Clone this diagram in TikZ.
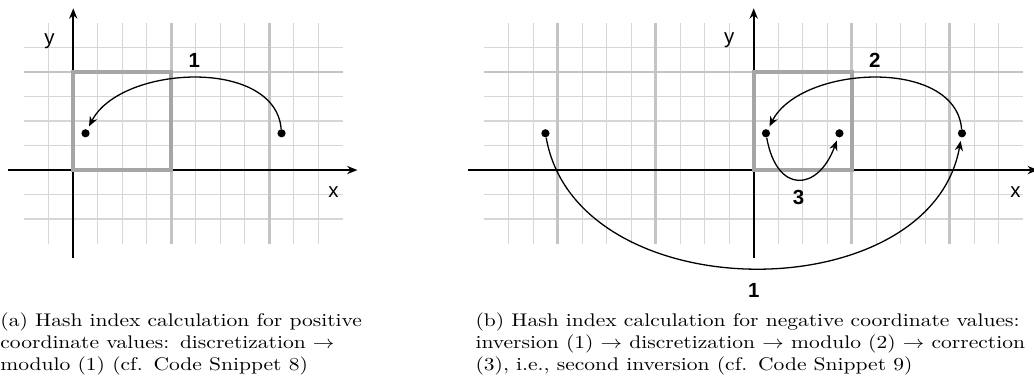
\documentclass[tikz,border=0pt]{standalone}
\usepackage{fontspec}
\newfontfamily\helv{Liberation Sans}
\usetikzlibrary{arrows.meta}

\definecolor{gridgray}{HTML}{D6D6D6}
\definecolor{gridbold}{HTML}{C4C4C4}
\definecolor{squaregray}{HTML}{A6A6A6}

\tikzset{
  thingrid/.style={draw=gridgray, line width=0.6pt},
  thickgrid/.style={draw=gridbold, line width=1.2pt},
  axis/.style={line width=0.8pt, -{Stealth[length=4.8pt,width=3.8pt]}},
  square/.style={draw=squaregray, line width=2pt},
  dot/.style={circle, fill, inner sep=0pt, minimum size=3.8pt},
  hop/.style={line width=0.6pt, -{Stealth[length=4.6pt,width=3.8pt]}, shorten >=1.5pt},
  steplabel/.style={font=\helv\bfseries\fontsize{9.5}{11}\selectfont},
  axislabel/.style={font=\helv\fontsize{9.5}{11}\selectfont},
  caption/.style={inner sep=0pt, anchor=north west, yscale=0.85, transform shape,
    font=\fontsize{10}{12}\selectfont}
}

\begin{document}
\begin{tikzpicture}[x=0.4cm,y=0.4cm]
  \useasboundingbox (-2.99,-8.78) rectangle (39.21,6.94);

  % (a) positive coordinates
  \foreach \i in {-1,...,10} \draw[thingrid] (\i,-3) -- (\i,6);
  \foreach \j in {-2,...,5} \draw[thingrid] (-2,\j) -- (11,\j);
  \foreach \i in {4,8} \draw[thickgrid] (\i,-3) -- (\i,6);
  \draw[thickgrid] (-2,4) -- (11,4);
  \coordinate (ax0) at (-2.65,0);
  \coordinate (ax1) at (11.6,0);
  \coordinate (ay0) at (0,-3.6);
  \coordinate (ay1) at (0,6.6);
  \draw[axis] (ax0) -- (ax1);
  \draw[axis] (ay0) -- (ay1);
  \draw[square] (0,0) rectangle (4,4);
  \node[axislabel] (ax) at (10.62,-0.9) {x};
  \node[axislabel] (ay) at (-0.97,5.25) {y};
  \node[dot] (ap) at (8.5,1.5) {};
  \node[dot] (aq) at (0.5,1.5) {};
  \draw[hop] (ap) to[out=95,in=63,looseness=0.95] node[steplabel, above=1.5pt] (a1) {1} (aq);

  % (b) negative coordinates
  \begin{scope}[shift={(27.77,0)}]
    \foreach \i in {-10,...,10} \draw[thingrid] (\i,-3) -- (\i,6);
    \foreach \j in {-2,...,5} \draw[thingrid] (-11,\j) -- (11,\j);
    \foreach \i in {-8,-4,4,8} \draw[thickgrid] (\i,-3) -- (\i,6);
    \draw[thickgrid] (-11,4) -- (11,4);
    \coordinate (bx0) at (-11.65,0);
    \coordinate (bx1) at (11.6,0);
    \coordinate (by0) at (0,-3.6);
    \coordinate (by1) at (0,6.6);
    \draw[axis] (bx0) -- (bx1);
    \draw[axis] (by0) -- (by1);
    \draw[square] (0,0) rectangle (4,4);
    \node[axislabel] (bx) at (10.68,-0.9) {x};
    \node[axislabel] (by) at (-1.0,5.3) {y};
    \node[dot] (bp1) at (-8.5,1.5) {};
    \node[dot] (bp2) at (0.5,1.5) {};
    \node[dot] (bp3) at (3.5,1.5) {};
    \node[dot] (bp4) at (8.5,1.5) {};
    \draw[hop] (bp1) to[out=-80,in=-100,looseness=1.09] node[steplabel, below=3.5pt] (b1) {1} (bp4);
    \draw[hop] (bp4) to[out=95,in=63,looseness=0.95] node[steplabel, above=1.5pt] (b2) {2} (bp2);
    \draw[hop] (bp2) to[out=-80,in=-110,looseness=2.07] node[steplabel, below=1.5pt] (b3) {3} (bp3);
  \end{scope}

  % captions
  \coordinate (capapos) at (-2.99,-5.73);
  \coordinate (capbpos) at (16.40,-5.73);
  \node[caption, text width=170pt] (capa) at (capapos) {\noindent\strut(a) Hash index calculation for positive\linebreak
    coordinate values: discretization $\rightarrow$\linebreak
    modulo (1) (cf. Code Snippet 8)};
  \node[caption, text width=265pt] (capb) at (capbpos) {\noindent\strut(b) Hash index calculation for negative coordinate values:\linebreak
    inversion (1) $\rightarrow$ discretization $\rightarrow$ modulo (2) $\rightarrow$ correction\linebreak
    (3), i.e., second inversion (cf. Code Snippet 9)};
\end{tikzpicture}
\end{document}
